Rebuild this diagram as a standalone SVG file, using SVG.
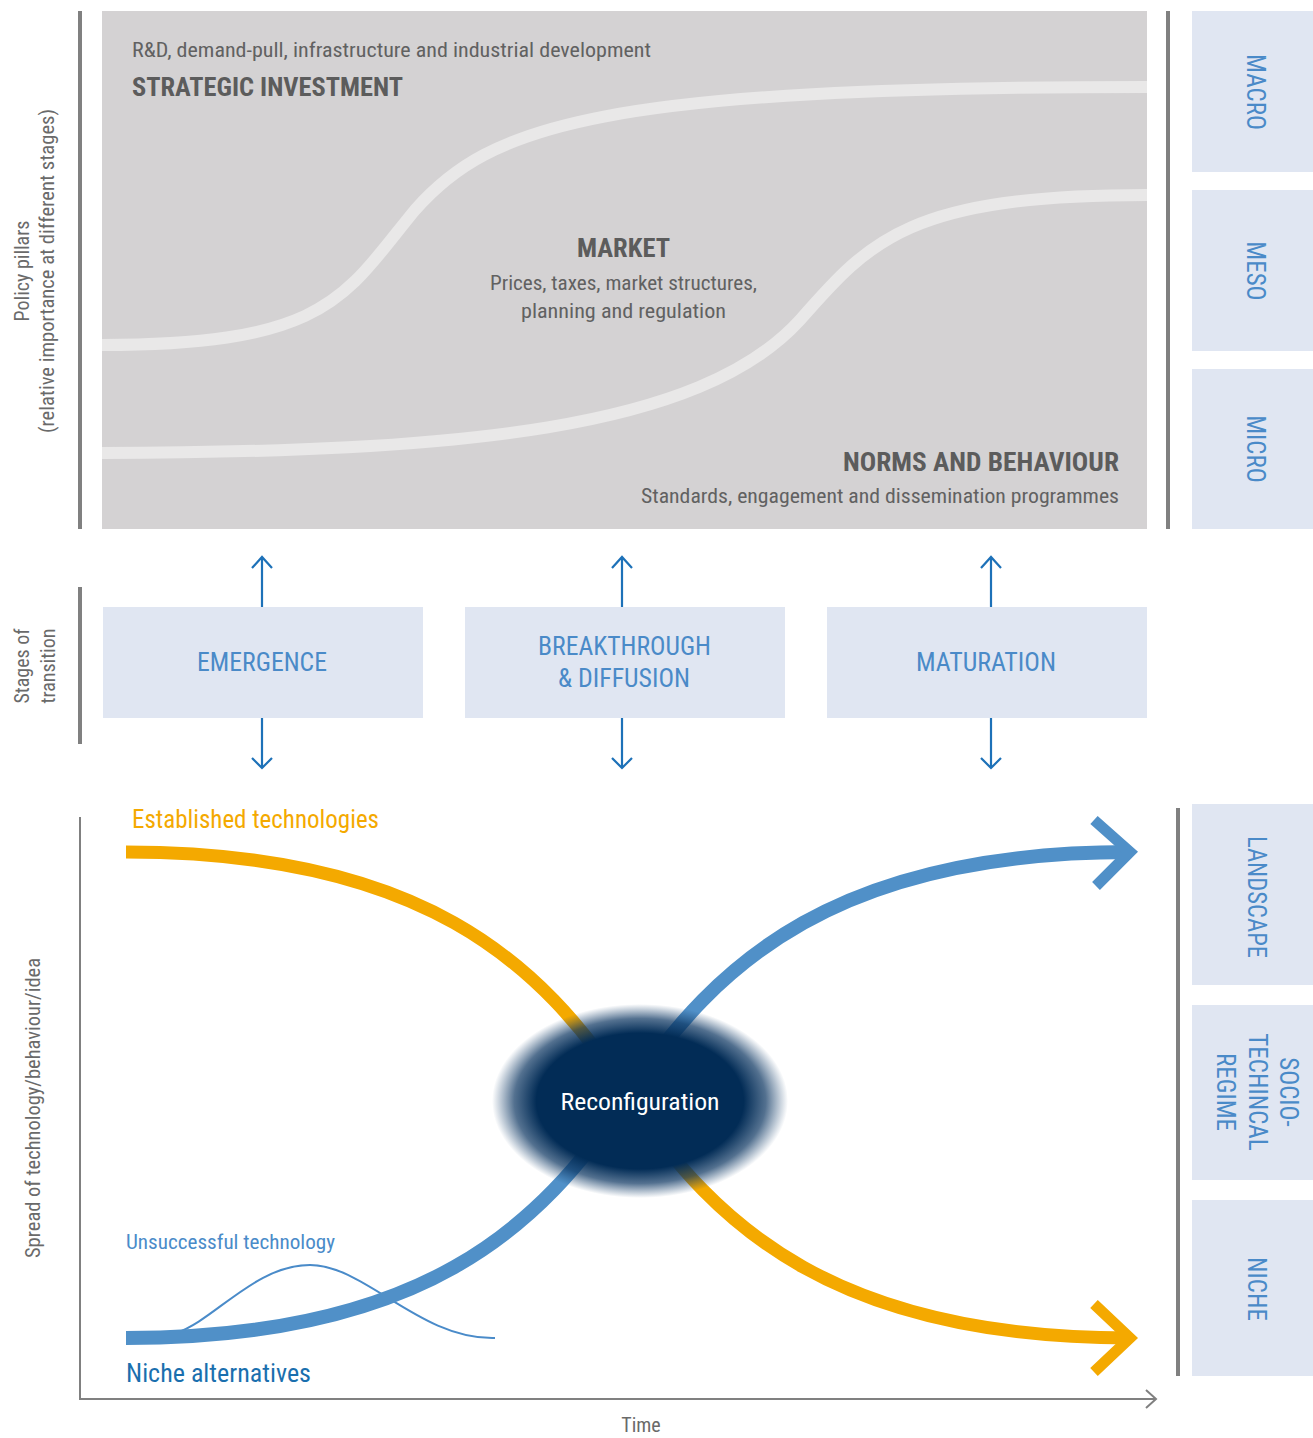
<svg xmlns="http://www.w3.org/2000/svg" width="1313" height="1438" viewBox="0 0 1313 1438">
<defs>
<style>
text{font-family:"Liberation Sans Narrow","Roboto Condensed","DejaVu Sans Condensed","Liberation Sans",sans-serif}
.g{fill:#616161;font-size:20px}
.gb{fill:#5c5c5c;font-size:25px;font-weight:bold}
.ax{fill:#6a6a6a;font-size:20px}
.st{fill:#4a8ac8;font-size:25px}
.lv{fill:#4a8ac8;font-size:25px}
.bar{fill:#808080}
.box{fill:#e0e6f2}
.sa{fill:none;stroke:#1d71b8;stroke-width:2.2}
.wc{fill:none;stroke:#e9e8e8;stroke-width:12}
</style>
<radialGradient id="rg" cx="0.5" cy="0.5" r="0.5">
<stop offset="0" stop-color="#022c56" stop-opacity="1"/>
<stop offset="0.7" stop-color="#022c56" stop-opacity="1"/>
<stop offset="0.85" stop-color="#0a3460" stop-opacity="0.7"/>
<stop offset="1" stop-color="#1a4470" stop-opacity="0"/>
</radialGradient>
</defs>
<rect width="1313" height="1438" fill="#ffffff"/>

<g id="policy-panel">
<rect x="102" y="11" width="1045" height="518" fill="#d4d2d3"/>
<path class="wc" d="M102,345 C330,345 345,295 415,210 C490,125 600,87 1147,87"/>
<path class="wc" d="M102,453 C460,452 700,430 800,320 C870,240 910,195 1147,195"/>
<text class="g" x="132" y="57" textLength="519" lengthAdjust="spacingAndGlyphs">R&amp;D, demand-pull, infrastructure and industrial development</text>
<text class="gb" x="132" y="96" textLength="271" lengthAdjust="spacingAndGlyphs">STRATEGIC INVESTMENT</text>
<text class="gb" x="623.5" y="257" text-anchor="middle" textLength="93" lengthAdjust="spacingAndGlyphs">MARKET</text>
<text class="g" x="623.5" y="290" text-anchor="middle" textLength="267" lengthAdjust="spacingAndGlyphs">Prices, taxes, market structures,</text>
<text class="g" x="623.5" y="318" text-anchor="middle" textLength="205" lengthAdjust="spacingAndGlyphs">planning and regulation</text>
<text class="gb" x="1119" y="471" text-anchor="end" textLength="276" lengthAdjust="spacingAndGlyphs">NORMS AND BEHAVIOUR</text>
<text class="g" x="1119" y="503" text-anchor="end" textLength="478" lengthAdjust="spacingAndGlyphs">Standards, engagement and dissemination programmes</text>
</g>

<g id="axis-labels">
<rect class="bar" x="78" y="11" width="4" height="518"/>
<rect class="bar" x="1166" y="11" width="4" height="518"/>
<rect class="bar" x="78" y="587" width="4" height="157"/>
<rect class="bar" x="1176" y="808" width="4" height="568"/>
<text class="ax" transform="translate(29,271) rotate(-90)" text-anchor="middle">Policy pillars</text>
<text class="ax" transform="translate(54,271) rotate(-90)" text-anchor="middle" textLength="324" lengthAdjust="spacingAndGlyphs">(relative importance at different stages)</text>
<text class="ax" transform="translate(29,666) rotate(-90)" text-anchor="middle">Stages of</text>
<text class="ax" transform="translate(55,666) rotate(-90)" text-anchor="middle">transition</text>
<text class="ax" transform="translate(40,1108) rotate(-90)" text-anchor="middle" textLength="300" lengthAdjust="spacingAndGlyphs">Spread of technology/behaviour/idea</text>
<text class="ax" x="641" y="1432" text-anchor="middle">Time</text>
</g>

<g id="macro"><rect class="box" x="1192" y="11" width="121" height="161"/><text class="lv" transform="translate(1247,92) rotate(90)" text-anchor="middle">MACRO</text></g>
<g id="meso"><rect class="box" x="1192" y="190" width="121" height="161"/><text class="lv" transform="translate(1247,271) rotate(90)" text-anchor="middle">MESO</text></g>
<g id="micro"><rect class="box" x="1192" y="369" width="121" height="160"/><text class="lv" transform="translate(1247,449) rotate(90)" text-anchor="middle">MICRO</text></g>

<g id="landscape"><rect class="box" x="1192" y="804" width="121" height="181"/><text class="lv" transform="translate(1248,897) rotate(90)" text-anchor="middle" textLength="122" lengthAdjust="spacingAndGlyphs">LANDSCAPE</text></g>
<g id="regime"><rect class="box" x="1192" y="1005" width="121" height="175"/><text class="lv" transform="translate(1280,1092) rotate(90)" text-anchor="middle"><tspan x="0" y="0">SOCIO-</tspan><tspan x="0" dy="31.5">TECHINCAL</tspan><tspan x="0" dy="31.5">REGIME</tspan></text></g>
<g id="niche"><rect class="box" x="1192" y="1200" width="121" height="176"/><text class="lv" transform="translate(1248,1289) rotate(90)" text-anchor="middle">NICHE</text></g>

<g id="emergence"><rect class="box" x="103" y="607" width="320" height="111"/><text class="st" x="262" y="671" text-anchor="middle" textLength="130" lengthAdjust="spacingAndGlyphs">EMERGENCE</text></g>
<g id="breakthrough"><rect class="box" x="465" y="607" width="320" height="111"/><text class="st" x="624.5" y="655" text-anchor="middle" textLength="173" lengthAdjust="spacingAndGlyphs">BREAKTHROUGH</text><text class="st" x="624" y="687" text-anchor="middle" textLength="132" lengthAdjust="spacingAndGlyphs">&amp; DIFFUSION</text></g>
<g id="maturation"><rect class="box" x="827" y="607" width="320" height="111"/><text class="st" x="986" y="671" text-anchor="middle" textLength="140" lengthAdjust="spacingAndGlyphs">MATURATION</text></g>

<g id="connectors">
<path class="sa" d="M262,607 V557 M252,568 L262,557 L272,568"/>
<path class="sa" d="M262,718 V768 M252,758 L262,768 L272,758"/>
<path class="sa" d="M622,607 V557 M612,568 L622,557 L632,568"/>
<path class="sa" d="M622,718 V768 M612,758 L622,768 L632,758"/>
<path class="sa" d="M991,607 V557 M981,568 L991,557 L1001,568"/>
<path class="sa" d="M991,718 V768 M981,758 L991,768 L1001,758"/>
<path d="M80,817 V1399 H1155 M1146,1390 L1156,1399 L1146,1408" fill="none" stroke="#808080" stroke-width="2"/>
<path d="M176,1333 C215,1320 255,1265 310,1265 C365,1265 420,1340 495,1338" fill="none" stroke="#4a8bc9" stroke-width="2"/>
<path d="M126,852 C420,852 540,960 628,1095 C716,1230 840,1338 1130,1338" fill="none" stroke="#f4a900" stroke-width="13"/>
<path d="M1094,1304 L1130,1338 L1094,1372" fill="none" stroke="#f4a900" stroke-width="11"/>
<path d="M126,1338 C420,1338 540,1230 628,1095 C716,960 840,852 1130,852" fill="none" stroke="#5090c8" stroke-width="14"/>
<path d="M1094,820 L1130,852 L1096,886" fill="none" stroke="#5090c8" stroke-width="11"/>
</g>

<g id="reconfiguration">
<ellipse cx="640" cy="1101" rx="148" ry="97" fill="url(#rg)"/>
<text x="640" y="1110" text-anchor="middle" fill="#ffffff" font-size="24" textLength="159" lengthAdjust="spacingAndGlyphs">Reconfiguration</text>
</g>

<g id="curve-labels">
<text x="132" y="828" fill="#f4a900" font-size="25" textLength="247" lengthAdjust="spacingAndGlyphs">Established technologies</text>
<text x="126" y="1249" fill="#4a8bc9" font-size="21" textLength="209" lengthAdjust="spacingAndGlyphs">Unsuccessful technology</text>
<text x="126" y="1382" fill="#1a6fae" font-size="26" textLength="185" lengthAdjust="spacingAndGlyphs">Niche alternatives</text>
</g>
</svg>
